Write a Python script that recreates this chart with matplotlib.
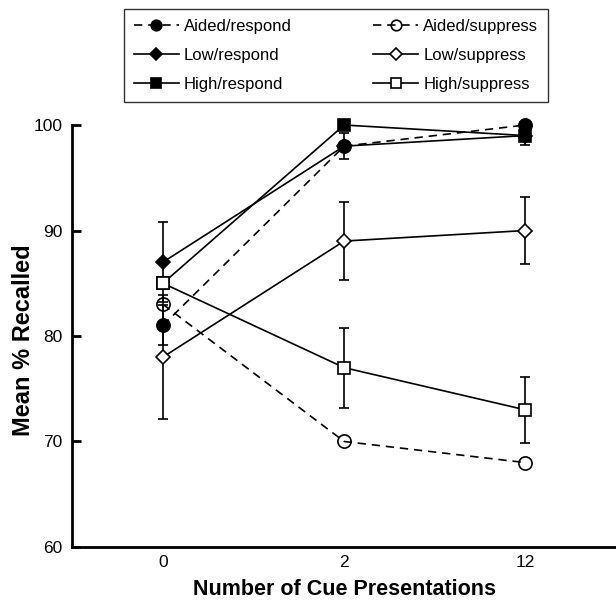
import numpy as np
import matplotlib.pyplot as plt

plt.rcParams['font.family'] = ['Liberation Sans', 'DejaVu Sans']

# Data
cue_labels = ['0', '2', '12']

aided_respond = [81, 98, 100]
aided_suppress = [83, 70, 68]
low_respond = [87, 98, 99]
low_suppress = [78, 89, 90]
high_respond = [85, 100, 99]
high_suppress = [85, 77, 73]

# error bars (only those visible in the picture; None = not shown)
aided_respond_err = [1.9, None, None]
low_respond_err = [3.8, 1.2, None]
low_suppress_err = [5.9, 3.7, 3.2]
high_respond_err = [None, None, 0.9]
high_suppress_err = [None, 3.8, 3.15]

x = np.arange(len(cue_labels))

fig = plt.figure(figsize=(6.16, 6.04), dpi=100)
ax = fig.add_axes([0.1174, 0.0944, 0.8826, 0.6986])

dash = (0, (5, 3.5))
lw = 1.2
ms = 9.5


def draw(vals, err, marker, fill, ls, label, ms_=ms, z=3):
    face = 'black' if fill == 'full' else ('none' if fill == 'none' else 'white')
    if err is not None:
        xs = [xi for xi, e in zip(x, err) if e is not None]
        ys = [v for v, e in zip(vals, err) if e is not None]
        es = [e for e in err if e is not None]
        ax.errorbar(xs, ys, yerr=es, fmt='none', ecolor='black', elinewidth=lw,
                    capsize=3.6, capthick=lw, zorder=2, clip_on=False)
    h, = ax.plot(x, vals, color='black', linestyle=ls, linewidth=lw, marker=marker,
                 markersize=ms_, markerfacecolor=face, markeredgecolor='black',
                 markeredgewidth=1.2, label=label, zorder=z, clip_on=False)
    return h


h_hr = draw(high_respond, high_respond_err, 's', 'full', '-', 'High/respond', ms_=9, z=3)
h_ar = draw(aided_respond, aided_respond_err, 'o', 'full', dash, 'Aided/respond', z=3)
h_lr = draw(low_respond, low_respond_err, 'D', 'full', '-', 'Low/respond', ms_=7.5, z=3)
h_as = draw(aided_suppress, None, 'o', 'none', dash, 'Aided/suppress', z=4)
h_ls = draw(low_suppress, low_suppress_err, 'D', 'white', '-', 'Low/suppress', ms_=7.5, z=4)
h_hs = draw(high_suppress, high_suppress_err, 's', 'white', '-', 'High/suppress', ms_=9, z=4)

ax.set_xlim(-0.5, 2.5)
ax.set_ylim(60, 100)
ax.set_xticks(x)
ax.set_xticklabels(cue_labels)
ax.set_yticks([60, 70, 80, 90, 100])
ax.tick_params(axis='x', length=0, labelsize=12.5, pad=6)
ax.tick_params(axis='y', length=6.5, width=2, labelsize=12.5, direction='in', pad=7)
for s in ['top', 'right']:
    ax.spines[s].set_visible(False)
for s in ['left', 'bottom']:
    ax.spines[s].set_linewidth(2)

ax.set_xlabel('Number of Cue Presentations', fontsize=15.5, fontweight='bold', labelpad=6)
ax.set_ylabel('Mean % Recalled', fontsize=17, fontweight='bold', va='center', ha='center')
ax.yaxis.set_label_coords(-0.09, 0.49)

handles = [h_ar, h_lr, h_hr, h_as, h_ls, h_hs]
leg = fig.legend(handles=handles, labels=[h.get_label() for h in handles], ncol=2,
                 loc='upper left', bbox_to_anchor=(0.201, 0.832, 0.689, 0.153),
                 mode='expand', fontsize=12, frameon=True, fancybox=False,
                 edgecolor='black', handlelength=2.7, handletextpad=0.3,
                 labelspacing=0.84, borderaxespad=0, columnspacing=1.5,
                 borderpad=0.6, markerscale=0.8)
leg.get_frame().set_linewidth(1.0)

fig.savefig('out.png', dpi=100)
